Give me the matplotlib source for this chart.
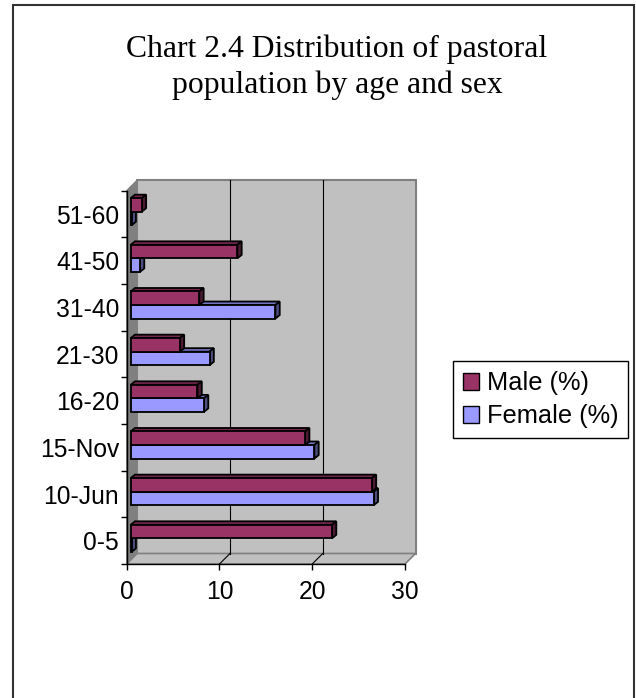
import numpy as np
import matplotlib
matplotlib.use("Agg")
import matplotlib.pyplot as plt
from matplotlib.patches import Polygon, Rectangle, Patch
from matplotlib.ticker import FixedLocator

# ---- data ----
categories = ['0-5', '10-Jun', '15-Nov', '16-20', '21-30', '31-40', '41-50', '51-60']
male = [21.7, 26.0, 18.8, 7.2, 5.3, 7.4, 11.5, 1.2]
female = [0.1, 26.2, 19.8, 7.9, 8.5, 15.6, 1.0, 0.1]
series_names = ['Male (%)', 'Female (%)']
x_ticks = [0, 10, 20, 30]
title = 'Chart 2.4 Distribution of pastoral\npopulation by age and sex'

# ---- style ----
male_front, male_top, male_side = '#993366', '#74264d', '#4d1a33'
fem_front, fem_top, fem_side = '#9999ff', '#7373c0', '#4d4d80'
wall_c, dark_wall = '#c0c0c0', '#808080'
SANS = 'Liberation Sans'
SERIF = 'Liberation Serif'
LAB = 17.7

W, H = 636, 698
fig = plt.figure(figsize=(W / 100, H / 100), dpi=100)
fig.patch.set_facecolor('white')

# front plane of the 3-D plot (pixels from top-left)
x0p, x1p, ytp, ybp = 126.7, 405.0, 190.7, 564.0
ax = fig.add_axes([x0p / W, 1 - ybp / H, (x1p - x0p) / W, (ybp - ytp) / H])
ax.set_xlim(x_ticks[0], x_ticks[-1])
ax.set_ylim(0, len(categories))
ax.patch.set_visible(False)

ux = (x1p - x0p) / (x_ticks[-1] - x_ticks[0])  # px per x unit
uy = (ybp - ytp) / len(categories)             # px per category
DX, DY = 10.5 / ux, 10.5 / uy                  # wall depth
BDX, BDY = 4.3 / ux, 3.5 / uy                  # bar depth
SHIFT = 4.0 / ux                               # bar front offset
XM, YM = x_ticks[-1], len(categories)

def poly(pts, **kw):
    p = Polygon(pts, closed=True, clip_on=False, **kw)
    ax.add_patch(p)
    return p

# walls
poly([(DX, DY), (XM + DX, DY), (XM + DX, YM + DY), (DX, YM + DY)],
     fc=wall_c, ec=dark_wall, lw=1.5, zorder=0)
poly([(0, 0), (0, YM), (DX, YM + DY), (DX, DY)],
     fc=dark_wall, ec=dark_wall, lw=1.0, zorder=0.5)
poly([(0, 0), (XM, 0), (XM + DX, DY), (DX, DY)],
     fc=wall_c, ec=dark_wall, lw=1.2, zorder=0.5)
# gridlines on back wall and floor
for xv in x_ticks[1:-1]:
    ax.plot([xv + DX, xv + DX], [DY, YM + DY], color='black', lw=0.8,
            clip_on=False, zorder=1)
    ax.plot([xv, xv + DX], [0, DY], color='black', lw=0.8,
            clip_on=False, zorder=1)

# bars
y = np.arange(len(categories))
bh = 0.29
fb = ax.barh(y + 0.26, female, height=bh, left=SHIFT, align='edge',
             color=fem_front, edgecolor='black', linewidth=1.3, zorder=3)
mb = ax.barh(y + 0.26 + bh, male, height=bh, left=SHIFT, align='edge',
             color=male_front, edgecolor='black', linewidth=1.3, zorder=5)

def add_3d(container, top_c, side_c, z):
    for r in container.patches:
        xa, ya = r.get_x(), r.get_y()
        xb, yb = xa + r.get_width(), ya + r.get_height()
        poly([(xa, yb), (xb, yb), (xb + BDX, yb + BDY), (xa + BDX, yb + BDY)],
             fc=top_c, ec='black', lw=1.3, zorder=z)
        poly([(xb, ya), (xb, yb), (xb + BDX, yb + BDY), (xb + BDX, ya + BDY)],
             fc=side_c, ec='black', lw=1.3, zorder=z)

add_3d(fb, fem_top, fem_side, 2.5)
add_3d(mb, male_top, male_side, 4.5)

# axes
for s in ['top', 'right']:
    ax.spines[s].set_visible(False)
for s in ['left', 'bottom']:
    ax.spines[s].set_color('black')
    ax.spines[s].set_linewidth(1.0)
    ax.spines[s].set_zorder(6)
ax.set_xticks(x_ticks)
ax.set_xticklabels([str(t) for t in x_ticks], fontfamily=SANS, fontsize=LAB)
ax.tick_params(axis='x', direction='out', length=4.3, width=1.0, pad=7.0,
               colors='black')
ax.yaxis.set_major_locator(FixedLocator(np.arange(len(categories) + 1)))
ax.yaxis.set_minor_locator(FixedLocator(y + 0.5))
ax.set_yticklabels([], minor=False)
ax.set_yticklabels(categories, minor=True, fontfamily=SANS, fontsize=LAB)
ax.tick_params(axis='y', which='major', direction='out', length=4.3, width=1.0)
ax.tick_params(axis='y', which='minor', length=0, pad=5.5)

# title
fig.text(337 / W, 1 - 35 / H, title, ha='center', va='top',
         fontfamily=SERIF, fontsize=22.8, linespacing=1.28)

# legend
handles = [Patch(facecolor=male_front, edgecolor='black', label=series_names[0]),
           Patch(facecolor=fem_front, edgecolor='black', label=series_names[1])]
leg = fig.legend(handles=handles, loc='upper left',
                 bbox_to_anchor=(452.7 / W, 1 - 361 / H),
                 prop={'family': SANS, 'size': 18.3}, frameon=True,
                 fancybox=False, edgecolor='black', framealpha=1,
                 handlelength=0.65, handleheight=0.65, handletextpad=0.28,
                 labelspacing=0.35, borderpad=0.4, borderaxespad=0)
leg.get_frame().set_linewidth(1.0)

# outer border
fig.add_artist(Rectangle((12.5 / W, -0.05), (633.5 - 12.5) / W, 1.05 - 5.5 / H,
                         transform=fig.transFigure, fill=False,
                         ec='#333333', lw=1.5))

fig.savefig('out.png', dpi=100)
